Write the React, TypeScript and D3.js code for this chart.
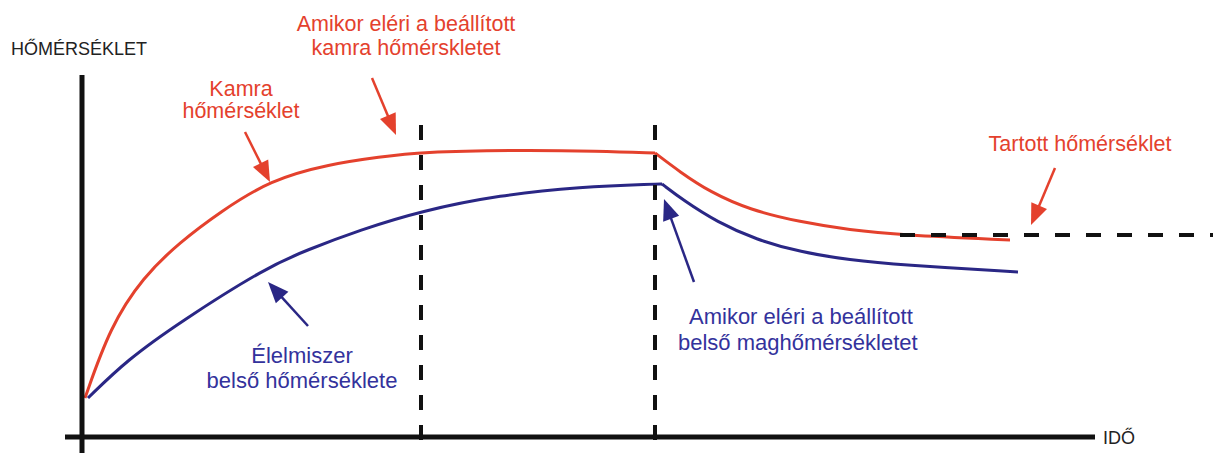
import React from "react";
import * as d3 from "d3";

// time (arbitrary units) and temperature (arbitrary units)
const chamberTime = [3, 28, 61, 98, 138, 188, 248, 298, 339, 431, 518, 573, 598, 628, 668, 718, 768, 818, 928];
const chamberTemp = [39, 110, 160, 195, 225, 257, 273, 280, 285, 287, 286, 284, 265, 245, 227, 215, 207, 202, 197];
const foodTime = [6, 45, 98, 185, 225, 278, 339, 418, 498, 573, 580, 601, 635, 675, 718, 768, 818, 936];
const foodTemp = [39, 77, 115, 170, 187, 207, 226, 242, 250, 253, 253, 237, 215, 197, 185, 177, 172, 165];
const chamberBreak = 573;
const foodBreak = 580;
const phaseTimes = [339, 573];
const holdTemp = 202;
const holdStart = 818;

const RED = "#e4412d";
const BLUE = "#2a2785";
const BLUE_TEXT = "#33329c";

export default function App() {
  const W = 1213, H = 453;
  const x = d3.scaleLinear().domain([0, 1010]).range([82, 1092]);
  const y = d3.scaleLinear().domain([0, 360]).range([437, 77]);
  const line = d3.line<[number, number]>().x(d => x(d[0])).y(d => y(d[1])).curve(d3.curveBasis);
  const split = (ts: number[], vs: number[], brk: number) => {
    const pts = ts.map((t, i) => [t, vs[i]] as [number, number]);
    const a = pts.filter(p => p[0] <= brk);
    const b = pts.filter(p => p[0] >= brk);
    return [line(a) || "", line(b) || ""];
  };
  const red = split(chamberTime, chamberTemp, chamberBreak);
  const blue = split(foodTime, foodTemp, foodBreak);
  const font = "Liberation Sans, Arial, sans-serif";

  const arrow = (x1: number, y1: number, x2: number, y2: number, color: string, key: string) => {
    const a = Math.atan2(y2 - y1, x2 - x1);
    const L = 21, Wd = 8.5;
    const bx = x2 - L * Math.cos(a), by = y2 - L * Math.sin(a);
    const px = -Math.sin(a) * Wd, py = Math.cos(a) * Wd;
    return (
      <g key={key}>
        <line x1={x1} y1={y1} x2={bx + 3 * Math.cos(a)} y2={by + 3 * Math.sin(a)} stroke={color} strokeWidth={2.5} />
        <polygon points={`${x2},${y2} ${bx + px},${by + py} ${bx - px},${by - py}`} fill={color} />
      </g>
    );
  };

  return (
    <svg width={W} height={H} style={{ position: "absolute", left: 0, top: 0, background: "#fff" }}>
      {/* curves */}
      {red.map((d, i) => <path key={"r" + i} d={d} fill="none" stroke={RED} strokeWidth={3} />)}
      {blue.map((d, i) => <path key={"b" + i} d={d} fill="none" stroke={BLUE} strokeWidth={3} />)}
      {/* phase dashed lines */}
      {phaseTimes.map((t, i) => (
        <line key={i} x1={x(t)} x2={x(t)} y1={125} y2={448} stroke="#111" strokeWidth={4} strokeDasharray="15 15" />
      ))}
      {/* hold temperature */}
      <line x1={x(holdStart)} x2={W} y1={y(holdTemp)} y2={y(holdTemp)} stroke="#111" strokeWidth={4} strokeDasharray="15 16" />
      {/* axes */}
      <line x1={82} x2={82} y1={75} y2={453} stroke="#111" strokeWidth={5} />
      <line x1={65} x2={1095} y1={437} y2={437} stroke="#111" strokeWidth={5} />
      <text x={11} y={55} fontFamily={font} fontSize={18} fill="#222">HŐMÉRSÉKLET</text>
      <text x={1103} y={444} fontFamily={font} fontSize={18} fill="#222">IDŐ</text>
      {/* red labels */}
      <g fontFamily={font} fontSize={21.5} fill={RED} textAnchor="middle">
        <text x={406} y={31}>Amikor eléri a beállított</text>
        <text x={406} y={55}>kamra hőmérskletet</text>
        <text x={241} y={96}>Kamra</text>
        <text x={241} y={118}>hőmérséklet</text>
        <text x={1080} y={151}>Tartott hőmérséklet</text>
      </g>
      <g fontFamily={font} fontSize={22} fill={BLUE_TEXT}>
        <text x={302} y={363} textAnchor="middle">Élelmiszer</text>
        <text x={302} y={388} textAnchor="middle">belső hőmérséklete</text>
        <text x={689} y={324}>Amikor eléri a beállított</text>
        <text x={678} y={350}>belső maghőmérsékletet</text>
      </g>
      {arrow(245, 132, 270, 182, RED, "a1")}
      {arrow(372, 78, 396, 135, RED, "a2")}
      {arrow(1055, 168, 1031, 225, RED, "a3")}
      {arrow(308, 326, 268, 282, BLUE, "b1")}
      {arrow(694, 282, 664, 199, BLUE, "b2")}
    </svg>
  );
}
